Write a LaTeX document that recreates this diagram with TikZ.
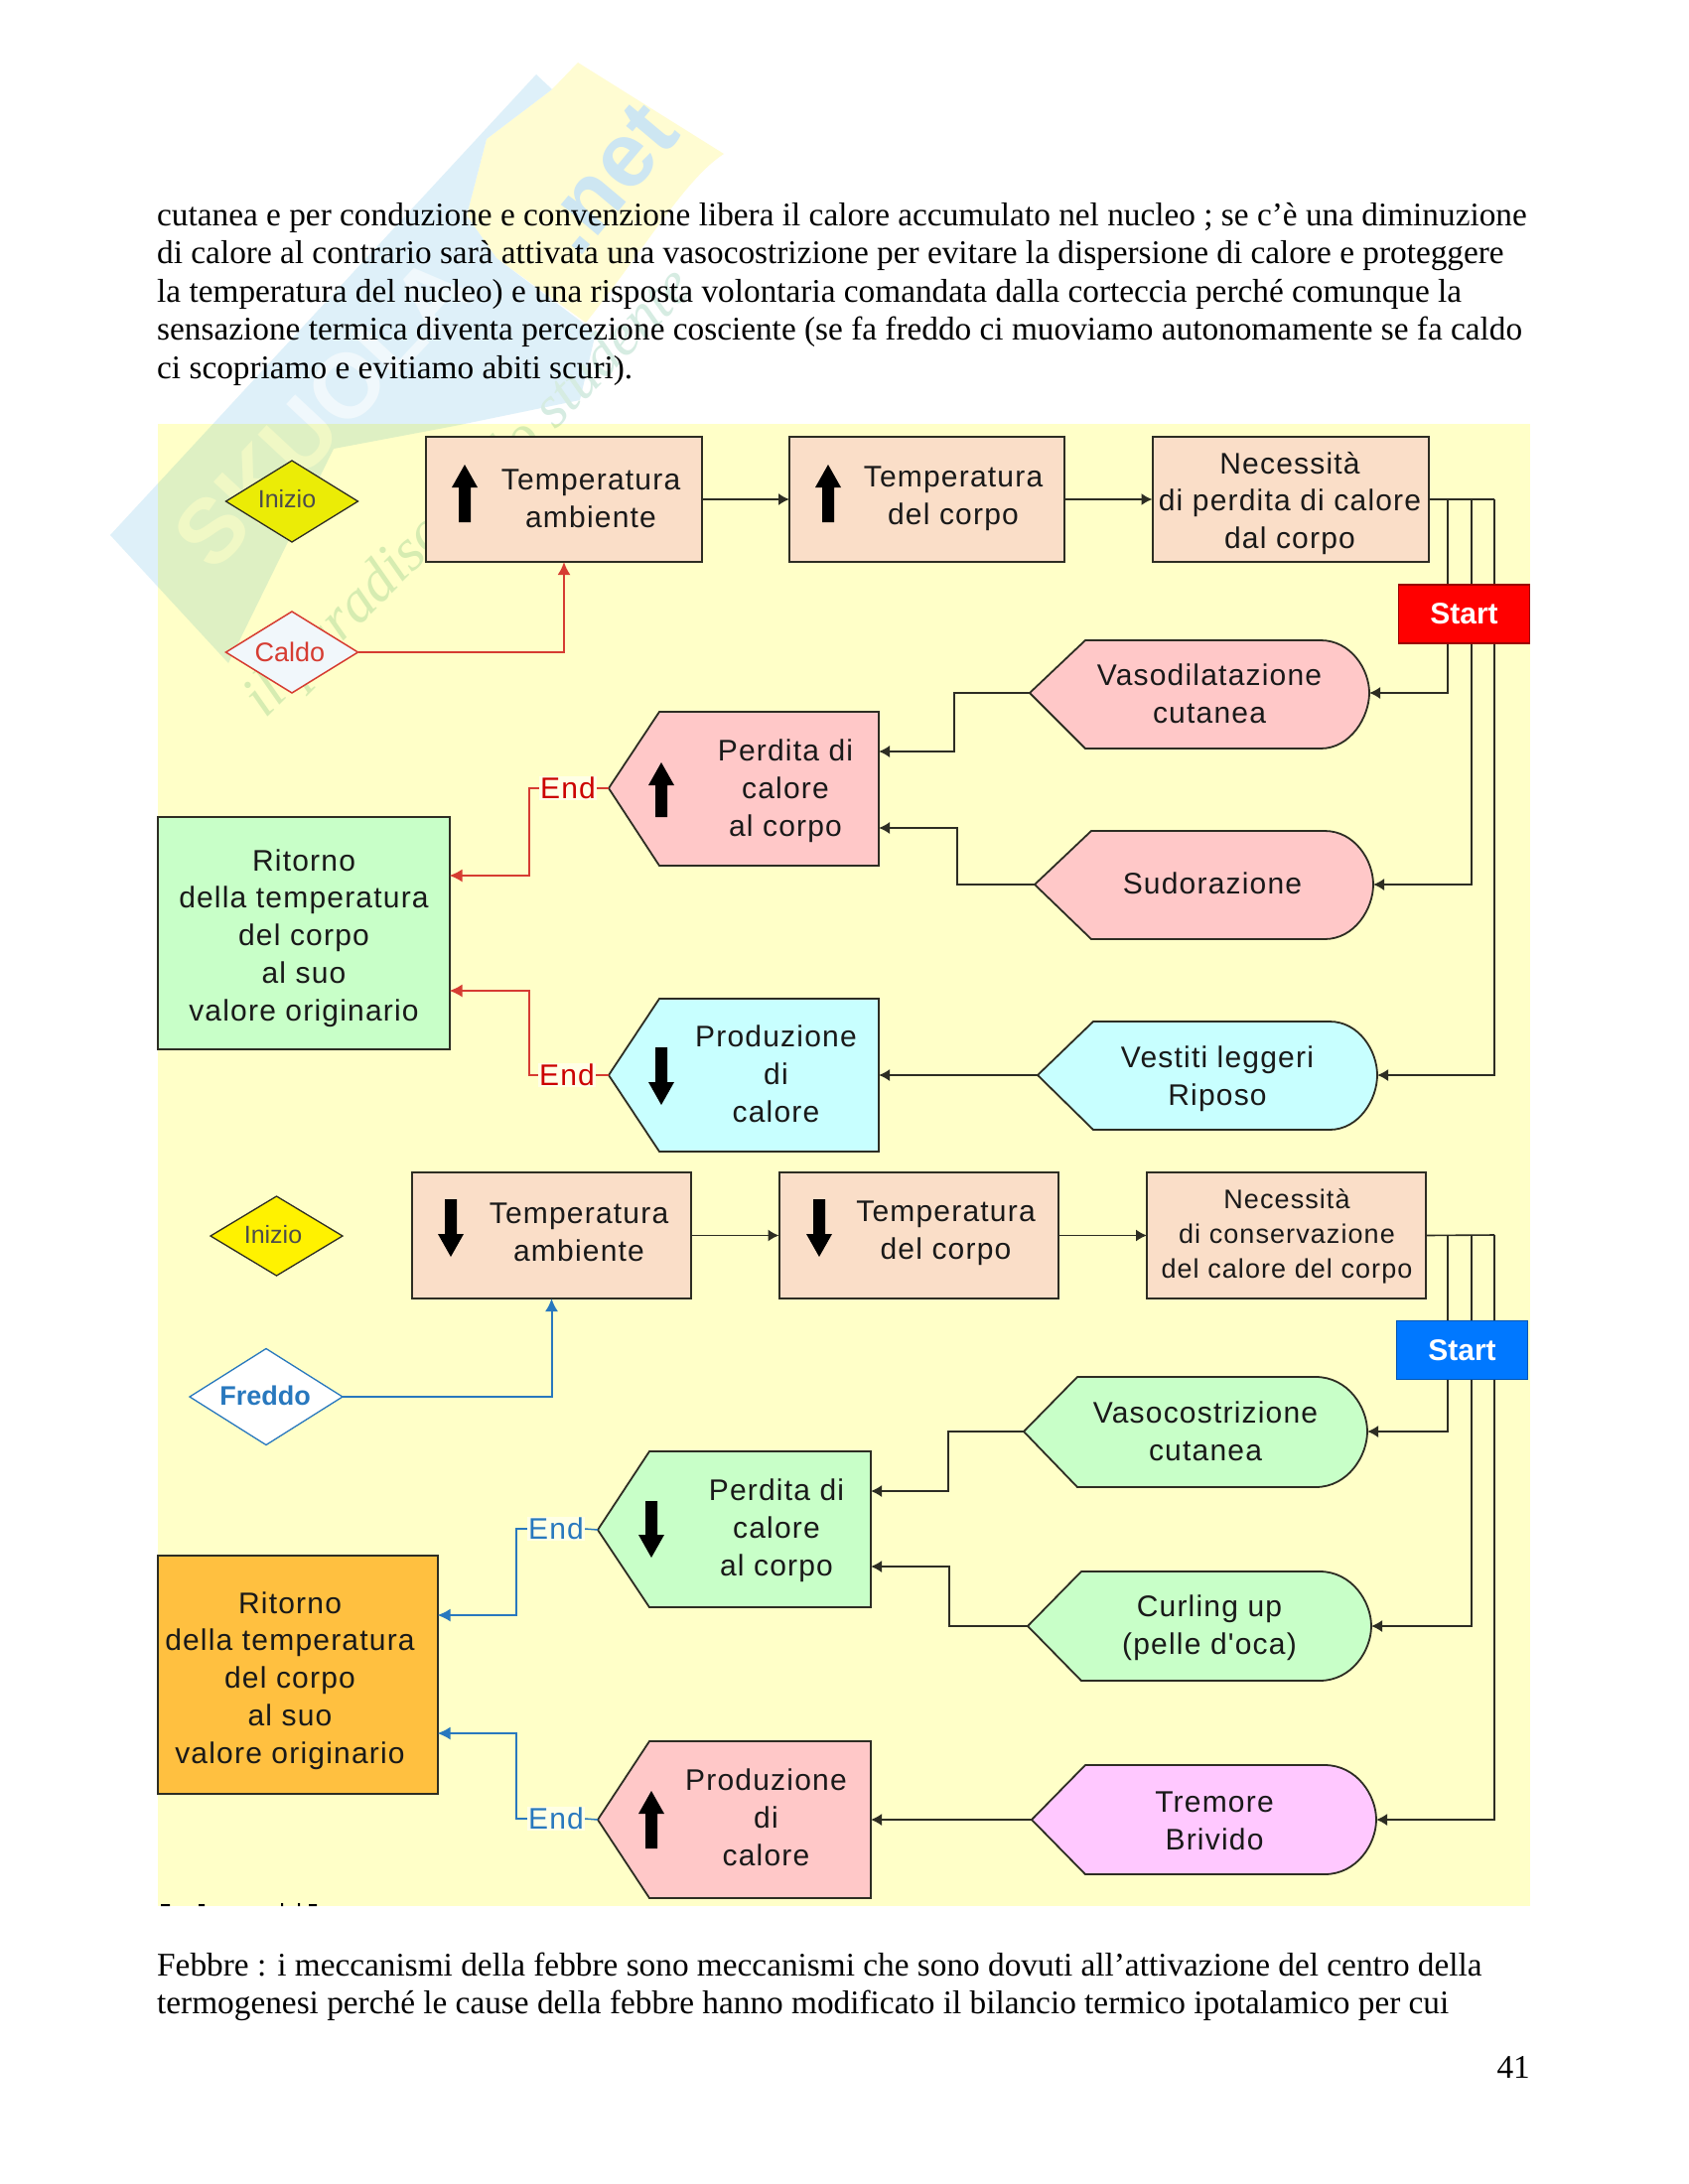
\documentclass[tikz,border=0pt]{standalone}
\usepackage{fontspec}
\setmainfont{Liberation Serif}
\newfontfamily\diagf[LetterSpace=4]{Liberation Sans}
\newfontfamily\wmf{Liberation Sans}
\usetikzlibrary{arrows.meta,shapes.geometric}
\definecolor{bgy}{RGB}{255,255,200}
\definecolor{peach}{RGB}{250,222,200}
\definecolor{pinkf}{RGB}{255,200,200}
\definecolor{cyanf}{RGB}{200,255,255}
\definecolor{greenf}{RGB}{200,255,200}
\definecolor{orangef}{RGB}{255,192,64}
\definecolor{lilacf}{RGB}{255,200,255}
\definecolor{redl}{RGB}{214,60,50}
\definecolor{bluel}{RGB}{40,120,190}
\definecolor{darkl}{RGB}{45,45,35}
\definecolor{wmblue}{RGB}{222,240,249}
\definecolor{wmlet}{RGB}{240,248,252}
\definecolor{wmnet}{RGB}{205,230,242}
\definecolor{wmyel}{RGB}{255,252,210}
\definecolor{wmtext}{RGB}{214,236,226}
\definecolor{startb}{RGB}{0,120,255}
\definecolor{caldof}{RGB}{241,247,251}
\tikzset{
 x=1pt,y=-1pt,
 para/.style={anchor=base west,inner sep=0pt,font=\fontsize{33.3}{38}\selectfont},
 rbox/.style={draw=darkl,line width=2pt,minimum width=#1,outer sep=0pt,inner sep=0pt},
 lbl/.style={align=center,inner sep=0pt,font=\diagf\fontsize{30}{37.8}\selectfont,text=black!90},
 dia/.style={diamond,inner sep=0pt,outer sep=0pt,aspect=1.6},
 blk/.style={draw=darkl,line width=1.6pt,-{Latex[length=11pt,width=12pt]}},
 plain/.style={draw=darkl,line width=1.6pt},
 redc/.style={draw=redl,line width=2pt,-{Latex[length=13pt,width=13pt]}},
 bluec/.style={draw=bluel,line width=2pt,-{Latex[length=13pt,width=13pt]}},
 endr/.style={text=red!80!black,fill=white!55!bgy,inner sep=1pt,anchor=center,font=\diagf\fontsize{30}{34}\selectfont},
 endb/.style={text=bluel,fill=white!55!bgy,inner sep=1pt,anchor=center,font=\diagf\fontsize{30}{34}\selectfont},
 startn/.style={draw=red!60!black,line width=1.5pt,fill=red,text=white,minimum width=132pt,minimum height=59pt,inner sep=0pt,outer sep=0pt,font=\wmf\bfseries\fontsize{30}{34}\selectfont},
}
% name, tip, flat, end, right, top, bottom, fill, mid
\newcommand{\hexround}[9]{%
 \draw[draw=darkl,line width=1.8pt,fill=#8] (#2,#9) -- (#3,#6) -- (#4,#6)
   .. controls ({#4+0.62*(#5-#4)},#6) and (#5,{#9-0.45*(#9-#6)}) .. (#5,#9)
   .. controls (#5,{#9+0.45*(#9-#6)}) and ({#4+0.62*(#5-#4)},#7) .. (#4,#7)
   -- (#3,#7) -- cycle;
 \coordinate (#1-w) at (#2,#9); \coordinate (#1-e) at (#5,#9);}
\newcommand{\hexflat}[8]{%
 \draw[draw=darkl,line width=1.8pt,fill=#7] (#2,#8) -- (#3,#5) -- (#4,#5) -- (#4,#6) -- (#3,#6) -- cycle;
 \coordinate (#1-w) at (#2,#8); \coordinate (#1-e) at (#4,#8);}
\newcommand{\bigup}[3]{\fill[black] (#1,#2) -- ({#1+13},{#2+23}) -- ({#1+6},{#2+23}) -- ({#1+6},#3) -- ({#1-6},#3) -- ({#1-6},{#2+23}) -- ({#1-13},{#2+23}) -- cycle;}
\newcommand{\bigdown}[3]{\fill[black] (#1,#3) -- ({#1+13},{#3-23}) -- ({#1+6},{#3-23}) -- ({#1+6},#2) -- ({#1-6},#2) -- ({#1-6},{#3-23}) -- ({#1-13},{#3-23}) -- cycle;}
\begin{document}
\begin{tikzpicture}
\useasboundingbox (0,0) rectangle (1700,2200);
\fill[white] (0,0) rectangle (1700,2200);
% watermark
\fill[wmyel] (582,63) -- (729,155) .. controls (690,180) and (650,250) .. (590,325) -- (500,260) -- (470,217) -- (490,140) -- (556,90) -- cycle;
\fill[wmblue] (111,539) -- (540,75) -- (556,90) -- (490,140) -- (470,217) -- (500,260) -- (600,335) -- (584,403) -- (458,429) -- (336,452) -- (230,668) -- cycle;
\node[rotate=47,text=wmlet,inner sep=0pt,font=\wmf\bfseries\fontsize{92}{92}\selectfont] (wm1) at (325,415) {SKUOLA};
\node[rotate=50,text=wmnet,inner sep=0pt,font=\wmf\bfseries\fontsize{92}{92}\selectfont] (wm2) at (612,180) {.net};
\node[rotate=45,text=wmtext,inner sep=0pt,font=\itshape\fontsize{60}{60}\selectfont] (wm3) at (474,498) {il paradiso dello studente};
% yellow background
\fill[bgy,blend mode=multiply] (158.5,427) rectangle (1541,1920);
\fill[black] (162,1918) rectangle (171,1920) (200,1918) rectangle (206,1920) (283,1917) rectangle (285,1920) (300,1917) rectangle (302,1920) (311,1918) rectangle (319,1920);
% page text
\node[para] (p1) at (158,227.5) {cutanea e per conduzione e convenzione libera il calore accumulato nel nucleo ; se c’è una diminuzione};
\node[para] (p2) at (158,265.5) {di calore al contrario sarà attivata una vasocostrizione per evitare la dispersione di calore e proteggere};
\node[para] (p3) at (158,304) {la temperatura del nucleo) e una risposta volontaria comandata dalla corteccia perché comunque la};
\node[para] (p4) at (158,342.5) {sensazione termica diventa percezione cosciente (se fa freddo ci muoviamo autonomamente se fa caldo};
\node[para] (p5) at (158,381) {ci scopriamo e evitiamo abiti scuri).};
\node[para] (p6) at (158,1990) {Febbre : i meccanismi della febbre sono meccanismi che sono dovuti all’attivazione del centro della};
\node[para] (p7) at (158,2028) {termogenesi perché le cause della febbre hanno modificato il bilancio termico ipotalamico per cui};
\node[para,anchor=base east] (p8) at (1541,2093) {41};
% upper half shapes
\node[rbox=278pt,fill=peach,minimum height=126pt] (b1) at (568,503) {};
\node[rbox=277pt,fill=peach,minimum height=126pt] (b2) at (933.5,503) {};
\node[rbox=278pt,fill=peach,minimum height=126pt] (b3) at (1299.5,503) {};
\node[rbox=294pt,fill=greenf,minimum height=234pt] (ret1) at (305.5,940) {};
\node[dia,draw=darkl,line width=1.3pt,fill=yellow!92!green,minimum width=133pt,minimum height=82pt] (dI1) at (294,505) {};
\node[dia,draw=redl,line width=1.5pt,fill=caldof,minimum width=133pt,minimum height=82pt] (dC) at (294,657) {};
\hexround{v1}{1037}{1093}{1330}{1379}{645}{754}{pinkf}{698}
\hexround{v2}{1042}{1099}{1334}{1383}{837}{946}{pinkf}{891}
\hexround{v3}{1045}{1101}{1339}{1387}{1029}{1138}{cyanf}{1083}
\hexflat{h1}{613}{664}{885}{717}{872}{pinkf}{794}
\hexflat{h2}{613}{664}{885}{1006}{1160}{cyanf}{1083}
% lower half shapes
\node[rbox=281pt,fill=peach,minimum height=127pt] (c1) at (555.5,1244.5) {};
\node[rbox=281pt,fill=peach,minimum height=127pt] (c2) at (925,1244.5) {};
\node[rbox=281pt,fill=peach,minimum height=127pt] (c3) at (1295.5,1244.5) {};
\node[rbox=282pt,fill=orangef,minimum height=240pt] (ret2) at (299.5,1687) {};
\node[dia,draw=darkl,line width=1.3pt,fill=yellow,minimum width=133pt,minimum height=80pt] (dI2) at (278.5,1245) {};
\node[dia,draw=bluel,line width=1.3pt,fill=white,minimum width=154pt,minimum height=97pt] (dF) at (268,1407) {};
\hexround{u1}{1031}{1085}{1325}{1377}{1387}{1498}{greenf}{1442}
\hexround{u2}{1035}{1089}{1329}{1381}{1583}{1693}{greenf}{1638}
\hexround{u3}{1039}{1093}{1334}{1386}{1778}{1888}{lilacf}{1833}
\hexflat{k1}{602}{654}{877}{1462}{1619}{greenf}{1541}
\hexflat{k2}{602}{654}{877}{1754}{1912}{pinkf}{1833}
% End nodes
\node[endr] (e1) at (572,794) {End};
\node[endr] (e2) at (571,1083) {End};
\node[endb] (e3) at (560,1540) {End};
\node[endb] (e4) at (560,1832) {End};
% connectors upper
\draw[blk] (b1.east) -- (b2.west);
\draw[blk] (b2.east) -- (b3.west);
\coordinate (ua) at (1458,503); \coordinate (ub) at (1482,503); \coordinate (uc) at (1505,503);
\draw[plain] (b3.east) -- (uc);
\draw[blk] (ua) |- (v1-e);
\draw[blk] (ub) |- (v2-e);
\draw[blk] (uc) |- (v3-e);
\draw[blk] (v1-w) -- (961,698) |- (h1-e |- 0,757);
\draw[blk] (v2-w) -- (964,891) |- (h1-e |- 0,834);
\draw[blk] (v3-w) -- (h2-e);
\draw[redc] (dC.east) -| (b1.south);
\draw[draw=redl,line width=1.5pt] (h1-w) -- (e1.east);
\draw[draw=redl,line width=1.5pt] (h2-w) -- (e2.east);
\draw[redc] (e1.west) -- (533,794) |- (ret1.east |- 0,882);
\draw[redc] (e2.west) -- (533,1083) |- (ret1.east |- 0,998);
% connectors lower
\draw[blk] (c1.east) -- (c2.west);
\draw[blk] (c2.east) -- (c3.west);
\coordinate (wa) at (1458,1244); \coordinate (wb) at (1482,1244); \coordinate (wc) at (1505,1244);
\draw[plain] (c3.east) -- (wc);
\draw[blk] (wa) |- (u1-e);
\draw[blk] (wb) |- (u2-e);
\draw[blk] (wc) |- (u3-e);
\draw[blk] (u1-w) -- (955,1442) |- (k1-e |- 0,1502);
\draw[blk] (u2-w) -- (956,1638) |- (k1-e |- 0,1578);
\draw[blk] (u3-w) -- (k2-e);
\draw[bluec] (dF.east) -| (c1.south);
\draw[draw=bluel,line width=1.5pt] (k1-w) -- (e3.east);
\draw[draw=bluel,line width=1.5pt] (k2-w) -- (e4.east);
\draw[bluec] (e3.west) -- (520,1540) |- (ret2.east |- 0,1627);
\draw[bluec] (e4.west) -- (520,1832) |- (ret2.east |- 0,1746);
% Start
\node[startn] (s1) at (1474.5,618.5) {Start};
\node[startn,fill=startb,draw=startb!70!black] (s2) at (1472.5,1360) {Start};
% big arrows
\bigup{468}{468}{526}
\bigup{834}{468}{526}
\bigup{666}{768}{823}
\bigdown{666}{1055}{1113}
\bigdown{454}{1208}{1266}
\bigdown{825}{1208}{1266}
\bigdown{656}{1512}{1569}
\bigup{656}{1804}{1862}
% labels
\node[lbl] (t1) at (595,502.5) {Temperatura\\ambiente};
\node[lbl] (t2) at (960,502.5) {Temperatura\\del corpo};
\node[lbl] (t3) at (1299,507) {Necessità\\di perdita di calore\\dal corpo};
\node[lbl,font=\wmf\fontsize{25}{30}\selectfont,text=black!70] (t4) at (289,503) {Inizio};
\node[lbl,font=\wmf\fontsize{27}{30}\selectfont,text=redl] (t5) at (292,657) {Caldo};
\node[lbl] (t6) at (1218,699) {Vasodilatazione\\cutanea};
\node[lbl] (t7) at (1221,890) {Sudorazione};
\node[lbl] (t8) at (1226,1087) {Vestiti leggeri\\Riposo};
\node[lbl] (t9) at (791,797) {Perdita di\\calore\\al corpo};
\node[lbl] (t10) at (781.5,1082) {Produzione\\di\\calore};
\node[lbl] (t11) at (306,945) {Ritorno\\della temperatura\\del corpo\\al suo\\valore originario};
\node[lbl] (t12) at (583,1241.5) {Temperatura\\ambiente};
\node[lbl] (t13) at (952.5,1242) {Temperatura\\del corpo};
\node[lbl,font=\diagf\fontsize{27}{35}\selectfont] (t14) at (1296,1245.5) {Necessità\\di conservazione\\del calore del corpo};
\node[lbl,font=\wmf\fontsize{25}{30}\selectfont,text=black!70] (t15) at (275,1244) {Inizio};
\node[lbl,font=\wmf\bfseries\fontsize{27}{30}\selectfont,text=bluel] (t16) at (267,1406) {Freddo};
\node[lbl] (t17) at (1214,1442) {Vasocostrizione\\cutanea};
\node[lbl] (t18) at (1218,1640) {Curling up\\(pelle d'oca)};
\node[lbl] (t19) at (1223,1834) {Tremore\\Brivido};
\node[lbl] (t20) at (782,1542) {Perdita di\\calore\\al corpo};
\node[lbl] (t21) at (771.5,1831) {Produzione\\di\\calore};
\node[lbl] (t22) at (292,1693) {Ritorno\\della temperatura\\del corpo\\al suo\\valore originario};
\end{tikzpicture}
\end{document}
